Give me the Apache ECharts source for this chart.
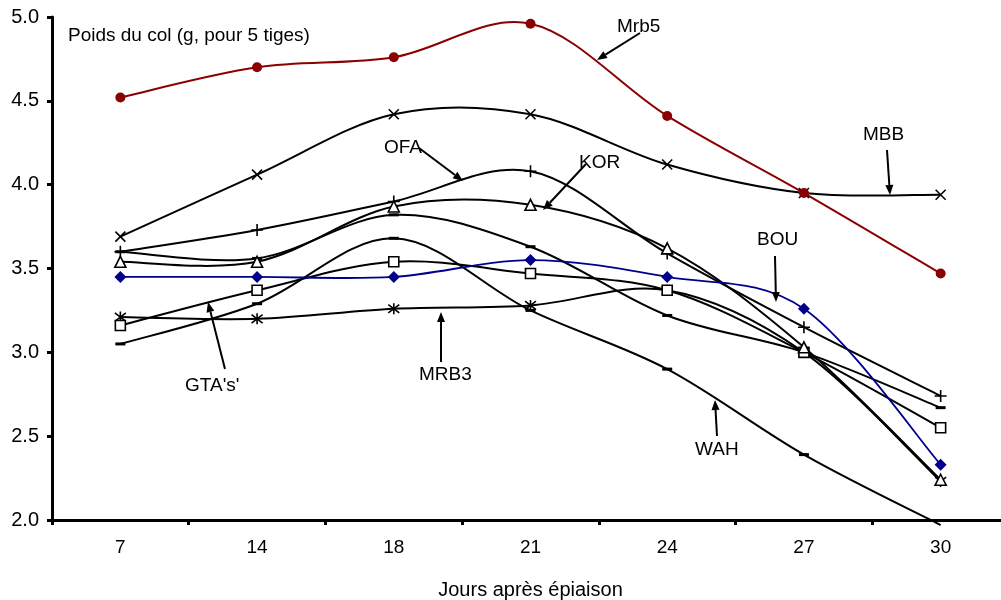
<!DOCTYPE html>
<html>
<head>
<meta charset="utf-8">
<script src="https://cdn.jsdelivr.net/npm/echarts@6/dist/echarts.min.js"></script>
<style>
  html, body { margin: 0; padding: 0; background: #fff; }
  #chart { width: 1001px; height: 600px; }
</style>
</head>
<body>
<div id="chart"></div>
<script>
// Jours après épiaison
const days = ['7', '14', '18', '21', '24', '27', '30'];

// Poids du col (g, pour 5 tiges) par variété
const mrb5 = [4.52, 4.70, 4.76, 4.96, 4.41, 3.95, 3.47];
const mbb  = [3.69, 4.06, 4.42, 4.42, 4.12, 3.95, 3.94];
const ofa  = [3.60, 3.73, 3.90, 4.08, 3.59, 3.15, 2.74];
const kor  = [3.54, 3.54, 3.87, 3.88, 3.62, 3.03, 2.24];
const bou  = [3.45, 3.45, 3.45, 3.55, 3.45, 3.26, 2.33];
const gta  = [3.16, 3.37, 3.54, 3.47, 3.37, 3.00, 2.55];
const mrb3 = [3.21, 3.20, 3.26, 3.28, 3.37, 3.00, 2.23];
const wah  = [3.05, 3.29, 3.68, 3.25, 2.90, 2.39, 1.97];
const autre = [3.60, 3.56, 3.82, 3.63, 3.22, 3.00, 2.67];

const yTicks = { min: 2.0, max: 5.0, step: 0.5 };

const FONT = '"Liberation Sans", Arial, sans-serif';

const SYM_X = 'path://M0,0L10,10M10,0L0,10';
const SYM_PLUS = 'path://M5,0L5,10M0,5L10,5';
const SYM_STAR = 'path://M0,0L10,10M10,0L0,10M5,-1.5L5,11.5';

// Courbe lissée (Catmull-Rom, tangente = (P[i+1]-P[i-1])/6) tracée segment par segment
function smoothCurve(name, values, color, width, z) {
  return {
    name: name,
    type: 'custom',
    data: values,
    z: z,
    silent: true,
    renderItem: function (params, api) {
      const i = params.dataIndex;
      const n = values.length;
      if (i >= n - 1) return null;
      const pt = k => api.coord([k, values[k]]);
      const p0 = pt(Math.max(i - 1, 0));
      const p1 = pt(i);
      const p2 = pt(i + 1);
      const p3 = pt(Math.min(i + 2, n - 1));
      return {
        type: 'bezierCurve',
        shape: {
          x1: p1[0], y1: p1[1],
          x2: p2[0], y2: p2[1],
          cpx1: p1[0] + (p2[0] - p0[0]) / 6,
          cpy1: p1[1] + (p2[1] - p0[1]) / 6,
          cpx2: p2[0] - (p3[0] - p1[0]) / 6,
          cpy2: p2[1] - (p3[1] - p1[1]) / 6
        },
        style: { stroke: color, lineWidth: width, fill: null }
      };
    }
  };
}

function markers(name, values, symbol, size, itemStyle, z) {
  return {
    name: name,
    type: 'scatter',
    data: values,
    symbol: symbol,
    symbolSize: size,
    itemStyle: Object.assign({ opacity: 1 }, itemStyle),
    emphasis: { disabled: true },
    silent: true,
    z: z
  };
}

const strokeOnly = { color: 'none', borderColor: '#000', borderWidth: 1.6 };
const hollow = { color: '#fff', borderColor: '#000', borderWidth: 1.6 };
const solid = { color: '#000', borderWidth: 0 };

const varieties = [
  { name: 'MBB',     values: mbb,   color: '#000',    width: 2,   symbol: SYM_X,      size: 10,      style: strokeOnly },
  { name: 'OFA',     values: ofa,   color: '#000',    width: 2,   symbol: SYM_PLUS,   size: 12,      style: strokeOnly },
  { name: 'autre',   values: autre, color: '#000',    width: 2,   symbol: 'rect',     size: [10, 3], style: solid },
  { name: 'WAH',     values: wah,   color: '#000',    width: 2,   symbol: 'rect',     size: [10, 3], style: solid },
  { name: 'MRB3',    values: mrb3,  color: '#000',    width: 2,   symbol: SYM_STAR,   size: 11,      style: strokeOnly },
  { name: 'GTA\'s\'', values: gta,  color: '#000',    width: 2,   symbol: 'rect',     size: 10,      style: hollow },
  { name: 'KOR',     values: kor,   color: '#000',    width: 2,   symbol: 'triangle', size: 11,      style: hollow },
  { name: 'BOU',     values: bou,   color: '#00008B', width: 1.8, symbol: 'diamond',  size: 12,      style: { color: '#00008B' } },
  { name: 'Mrb5',    values: mrb5,  color: '#8B0000', width: 2,   symbol: 'circle',   size: 10,      style: { color: '#8B0000' } }
];

const series = [];
varieties.forEach((v, k) => {
  series.push(smoothCurve(v.name, v.values, v.color, v.width, 2 + k * 0.01));
  series.push(markers(v.name, v.values, v.symbol, v.size, v.style, 3 + k * 0.01));
});

// Étiquettes des variétés avec leurs flèches
const notes = [
  { text: 'Mrb5',   x: 617, y: 27,  from: [640, 33],  to: [597, 60] },
  { text: 'MBB',    x: 863, y: 135, from: [887, 150], to: [890, 195] },
  { text: 'OFA',    x: 384, y: 148, from: [419, 148], to: [463, 181] },
  { text: 'KOR',    x: 579, y: 163, from: [586, 164], to: [543, 210] },
  { text: 'BOU',    x: 757, y: 240, from: [775, 256], to: [776, 302] },
  { text: 'GTA\'s\'', x: 185, y: 386, from: [225, 369], to: [208, 302] },
  { text: 'MRB3',   x: 419, y: 375, from: [441, 362], to: [441, 312] },
  { text: 'WAH',    x: 695, y: 450, from: [717, 436], to: [715, 400] }
];

function arrow(from, to) {
  const dx = to[0] - from[0], dy = to[1] - from[1];
  const len = Math.sqrt(dx * dx + dy * dy);
  const ux = dx / len, uy = dy / len;
  const hl = 10, hw = 4;
  const bx = to[0] - ux * hl, by = to[1] - uy * hl;
  return [
    { type: 'line', shape: { x1: from[0], y1: from[1], x2: bx, y2: by },
      style: { stroke: '#000', lineWidth: 2 }, z: 10 },
    { type: 'polygon', shape: { points: [
        [to[0], to[1]],
        [bx - uy * hw, by + ux * hw],
        [bx + uy * hw, by - ux * hw]
      ] }, style: { fill: '#000' }, z: 10 }
  ];
}

const graphics = [];
notes.forEach(n => {
  graphics.push({
    type: 'text', left: n.x, top: n.y - 10, z: 10,
    style: { text: n.text, fill: '#000', font: '19px ' + FONT }
  });
  arrow(n.from, n.to).forEach(g => graphics.push(g));
});

const chart = echarts.init(document.getElementById('chart'));
chart.setOption({
  animation: false,
  backgroundColor: '#fff',
  grid: { left: 52, top: 17, bottom: 80, width: 957, outerBoundsMode: 'none', containLabel: false },
  xAxis: {
    type: 'category',
    data: days,
    boundaryGap: true,
    name: 'Jours après épiaison',
    nameLocation: 'middle',
    nameGap: 60,
    nameTextStyle: { color: '#000', fontSize: 20, fontFamily: FONT },
    axisLine: { lineStyle: { color: '#000', width: 3 } },
    axisTick: { show: true, length: 5, lineStyle: { color: '#000', width: 3 } },
    axisLabel: { color: '#000', fontSize: 19, fontFamily: FONT, margin: 18 },
    splitLine: { show: false }
  },
  yAxis: {
    type: 'value',
    min: yTicks.min,
    max: yTicks.max,
    interval: yTicks.step,
    name: 'Poids du col (g, pour 5 tiges)',
    nameLocation: 'end',
    nameGap: -28,
    nameTextStyle: { color: '#000', fontSize: 19, fontFamily: FONT, align: 'left', padding: [0, 0, 0, 16] },
    axisLine: { show: true, lineStyle: { color: '#000', width: 3 } },
    axisTick: { show: true, length: 5, lineStyle: { color: '#000', width: 3 } },
    axisLabel: { color: '#000', fontSize: 20, fontFamily: FONT, margin: 13,
      formatter: v => v.toFixed(1) },
    splitLine: { show: false }
  },
  series: series,
  graphic: graphics
});
</script>
</body>
</html>
